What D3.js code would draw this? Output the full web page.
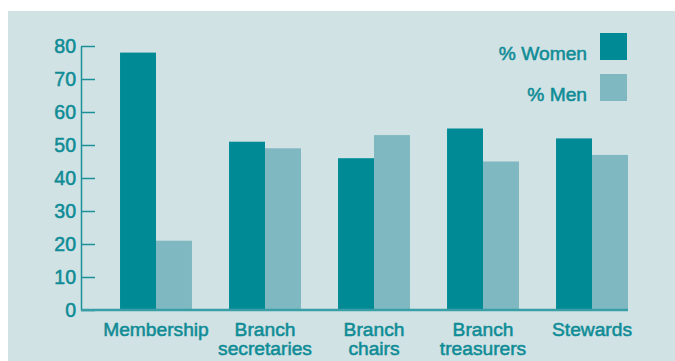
<!DOCTYPE html>
<html>
<head>
<meta charset="utf-8">
<script src="https://cdn.jsdelivr.net/npm/d3@7"></script>
<style>
html,body{margin:0;padding:0;background:#fff;}
svg{display:block;}
text{font-family:"Liberation Sans",Arial,Helvetica,sans-serif;fill:#0f8c96;stroke:#0f8c96;stroke-width:0.55px;}
</style>
</head>
<body>
<svg id="chart" width="675" height="361"></svg>
<script>
const categories = [["Membership"], ["Branch", "secretaries"], ["Branch", "chairs"], ["Branch", "treasurers"], ["Stewards"]];
const seriesNames = ["% Women", "% Men"];
const women = [78, 51, 46, 55, 52];
const men = [21, 49, 53, 45, 47];
const yTicks = [0, 10, 20, 30, 40, 50, 60, 70, 80];

const colors = ["#008a95", "#7fb8c0"];
const svg = d3.select("#chart");

svg.append("rect").attr("x", 8).attr("y", 11).attr("width", 667).attr("height", 350).attr("fill", "#d1e2e5");

const y = d3.scaleLinear().domain([0, 80]).range([310, 46]);
const x0 = d3.scaleBand().domain(d3.range(categories.length)).range([101.5, 646.5]).paddingInner(0.34).paddingOuter(0.17);
const x1 = d3.scaleBand().domain([0, 1]).range([0, x0.bandwidth()]);

const data = categories.map((c, i) => ({ i, vals: [women[i], men[i]] }));

const g = svg.append("g");
data.forEach(d => {
  d.vals.forEach((v, s) => {
    g.append("rect")
      .attr("x", x0(d.i) + x1(s))
      .attr("y", y(v))
      .attr("width", x1.bandwidth())
      .attr("height", y(0) - y(v))
      .attr("fill", colors[s]);
  });
});

// y axis
const yAxis = d3.axisLeft(y).tickValues(yTicks).tickSize(-14).tickPadding(5).tickSizeOuter(0);
const ya = svg.append("g").attr("transform", "translate(81,0)").call(yAxis);
ya.select(".domain").attr("stroke", "#1b9099").attr("stroke-width", 1.5);
ya.selectAll(".tick line").attr("stroke", "#1b9099").attr("stroke-width", 1.5);
ya.selectAll(".tick text").attr("font-size", 19.5).attr("fill", "#0f8c96")
  .attr("font-family", "Liberation Sans, Arial, sans-serif").attr("dy", "0.35em");

// baseline
const lastBar = x0(categories.length - 1) + x0.bandwidth();
svg.append("line").attr("x1", 81).attr("x2", lastBar).attr("y1", 310).attr("y2", 310)
  .attr("stroke", "#3a9ea6").attr("stroke-width", 2.5);

// category labels via bottom axis
const xAxis = d3.axisBottom(x0).tickSize(0).tickFormat("");
const xa = svg.append("g").attr("transform", "translate(0,310)").call(xAxis);
xa.select(".domain").remove();
xa.selectAll(".tick").each(function(i) {
  const t = d3.select(this).append("text").attr("text-anchor", "middle").attr("font-size", 19.2).attr("fill", "#0f8c96");
  categories[i].forEach((line, k) => {
    t.append("tspan").attr("x", 0).attr("y", 26 + k * 19).text(line);
  });
});

// legend
const legend = svg.append("g");
seriesNames.forEach((n, s) => {
  legend.append("rect").attr("x", 600).attr("y", 33 + s * 41).attr("width", 27).attr("height", 27).attr("fill", colors[s]);
  legend.append("text").attr("x", 587).attr("y", 53 + s * 41).attr("dy", "0.35em").attr("text-anchor", "end")
    .attr("font-size", 19.2).text(n);
});
</script>
</body>
</html>
